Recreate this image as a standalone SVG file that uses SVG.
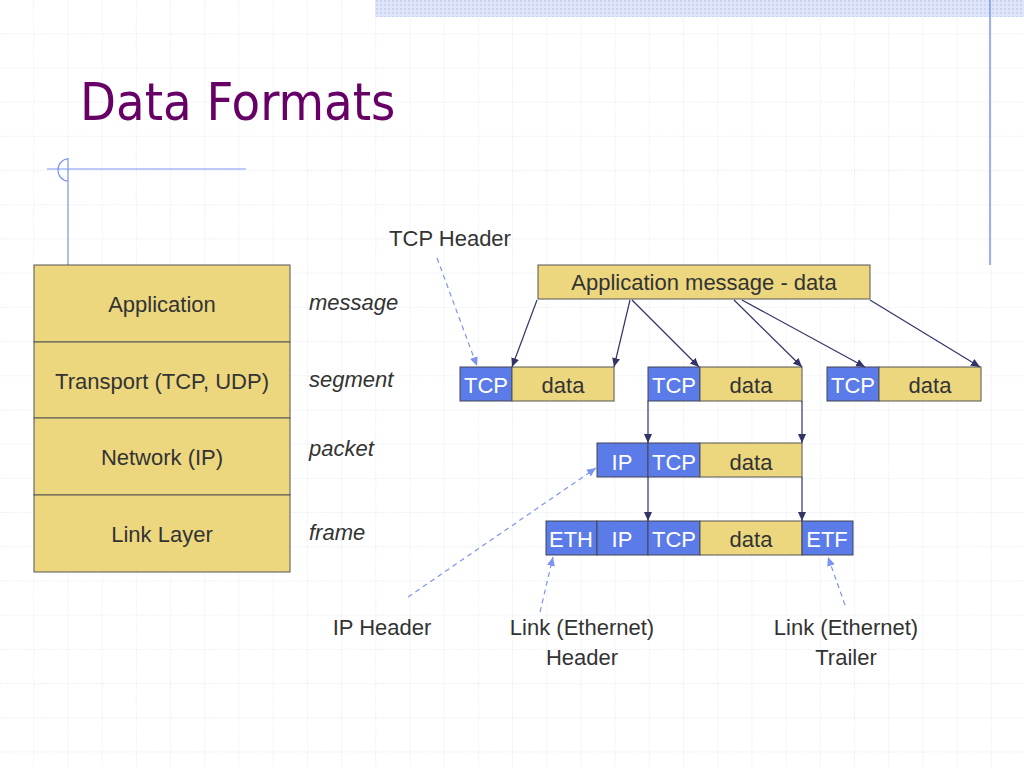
<svg xmlns="http://www.w3.org/2000/svg" width="1024" height="768" viewBox="0 0 1024 768">
<defs>
<pattern id="grid" x="0" y="0" width="34.2" height="34.2" patternUnits="userSpaceOnUse">
<path d="M34.2 0V34.2M0 34.2H34.2" fill="none" stroke="#dde3f3" stroke-width="1" stroke-dasharray="2 1"/>
</pattern>
<pattern id="dots" width="4" height="4" patternUnits="userSpaceOnUse">
<rect width="4" height="4" fill="#dfe6fa"/><rect width="2" height="2" fill="#c9d5f5"/>
</pattern>
<marker id="ah" markerWidth="10" markerHeight="10" refX="9" refY="5" orient="auto" markerUnits="userSpaceOnUse">
<path d="M0 1L9 5L0 9Z" fill="#333366"/>
</marker>
<marker id="ahb" markerWidth="10" markerHeight="10" refX="9" refY="5" orient="auto" markerUnits="userSpaceOnUse">
<path d="M0 1L9 5L0 9Z" fill="#7d94ee"/>
</marker>
</defs>
<style>
text{font-family:"Liberation Sans",Arial,sans-serif;fill:#333}
.g{fill:#ecd77f;stroke:#555;stroke-width:1}
.b{fill:#5b7be8;stroke:#445;stroke-width:1}
.bt{fill:#fff;font-size:22px;text-anchor:middle}
.dt{fill:#333;font-size:22px;text-anchor:middle}
.lt{font-size:22px;text-anchor:middle;fill:#333}
.it{font-size:22px;font-style:italic;fill:#333}
.c{stroke:#333366;stroke-width:1.2;fill:none;marker-end:url(#ah)}
.d{stroke:#7d94ee;stroke-width:1.2;fill:none;stroke-dasharray:5 4;marker-end:url(#ahb)}
</style>
<rect width="1024" height="768" fill="#fff"/>
<rect width="1024" height="768" fill="url(#grid)"/>
<rect x="375" y="0" width="649" height="17" fill="url(#dots)"/>
<line x1="990" y1="0" x2="990" y2="265" stroke="#7d94ee" stroke-width="1.5"/>
<text x="80" y="120" style="font-size:52px;fill:#660066;font-family:'DejaVu Sans Condensed','DejaVu Sans',sans-serif">Data Formats</text>
<line x1="47" y1="169" x2="246" y2="169" stroke="#7d94ee" stroke-width="1.2"/>
<line x1="68" y1="158" x2="68" y2="265" stroke="#7d94ee" stroke-width="1.2"/>
<path d="M68 159A10 11 0 0 0 68 181" fill="none" stroke="#7d94ee" stroke-width="1.2"/>
<g id="stack">
<rect class="g" x="34" y="265" width="256" height="77"/><text class="lt" x="162" y="312">Application</text>
<rect class="g" x="34" y="342" width="256" height="76"/><text class="lt" x="162" y="389">Transport (TCP, UDP)</text>
<rect class="g" x="34" y="418" width="256" height="77"/><text class="lt" x="162" y="465">Network (IP)</text>
<rect class="g" x="34" y="495" width="256" height="77"/><text class="lt" x="162" y="542">Link Layer</text>
</g>
<g id="names">
<text class="it" x="309" y="310">message</text>
<text class="it" x="309" y="387">segment</text>
<text class="it" x="309" y="456">packet</text>
<text class="it" x="309" y="540">frame</text>
</g>
<g id="app"><rect class="g" x="538" y="265" width="332" height="34"/><text class="dt" x="704" y="290">Application message - data</text></g>
<g id="seg1"><rect class="b" x="460" y="367" width="52" height="34"/><text class="bt" x="486" y="393">TCP</text><rect class="g" x="512" y="367" width="102" height="34"/><text class="dt" x="563" y="393">data</text></g>
<g id="seg2"><rect class="b" x="648" y="367" width="52" height="34"/><text class="bt" x="674" y="393">TCP</text><rect class="g" x="700" y="367" width="102" height="34"/><text class="dt" x="751" y="393">data</text></g>
<g id="seg3"><rect class="b" x="827" y="367" width="52" height="34"/><text class="bt" x="853" y="393">TCP</text><rect class="g" x="879" y="367" width="102" height="34"/><text class="dt" x="930" y="393">data</text></g>
<g id="packet"><rect class="b" x="597" y="443" width="51" height="34"/><text class="bt" x="622" y="470">IP</text><rect class="b" x="648" y="443" width="52" height="34"/><text class="bt" x="674" y="470">TCP</text><rect class="g" x="700" y="443" width="102" height="34"/><text class="dt" x="751" y="470">data</text></g>
<g id="frame"><rect class="b" x="546" y="521" width="51" height="34"/><text class="bt" x="571" y="547">ETH</text><rect class="b" x="597" y="521" width="51" height="34"/><text class="bt" x="622" y="547">IP</text><rect class="b" x="648" y="521" width="52" height="34"/><text class="bt" x="674" y="547">TCP</text><rect class="g" x="700" y="521" width="102" height="34"/><text class="dt" x="751" y="547">data</text><rect class="b" x="802" y="521" width="51" height="34"/><text class="bt" x="827" y="547">ETF</text></g>
<g id="labels">
<text class="lt" x="450" y="246">TCP Header</text>
<text class="lt" x="382" y="635">IP Header</text>
<text class="lt" x="582" y="635">Link (Ethernet)</text><text class="lt" x="582" y="665">Header</text>
<text class="lt" x="846" y="635">Link (Ethernet)</text><text class="lt" x="846" y="665">Trailer</text>
</g>
<g id="connectors">
<line class="c" x1="537" y1="300" x2="512" y2="367"/>
<line class="c" x1="630" y1="300" x2="614" y2="367"/>
<line class="c" x1="632" y1="300" x2="699" y2="367"/>
<line class="c" x1="734" y1="300" x2="802" y2="367"/>
<line class="c" x1="742" y1="300" x2="865" y2="367"/>
<line class="c" x1="870" y1="300" x2="980" y2="367"/>
<line class="c" x1="648" y1="401" x2="648" y2="443"/>
<line class="c" x1="802" y1="401" x2="802" y2="443"/>
<line class="c" x1="648" y1="477" x2="648" y2="521"/>
<line class="c" x1="802" y1="477" x2="802" y2="521"/>
<line class="d" x1="437" y1="258" x2="477" y2="366"/>
<line class="d" x1="408" y1="597" x2="596" y2="468"/>
<line class="d" x1="540" y1="612" x2="553" y2="557"/>
<line class="d" x1="845" y1="605" x2="828" y2="557"/>
</g>
</svg>
